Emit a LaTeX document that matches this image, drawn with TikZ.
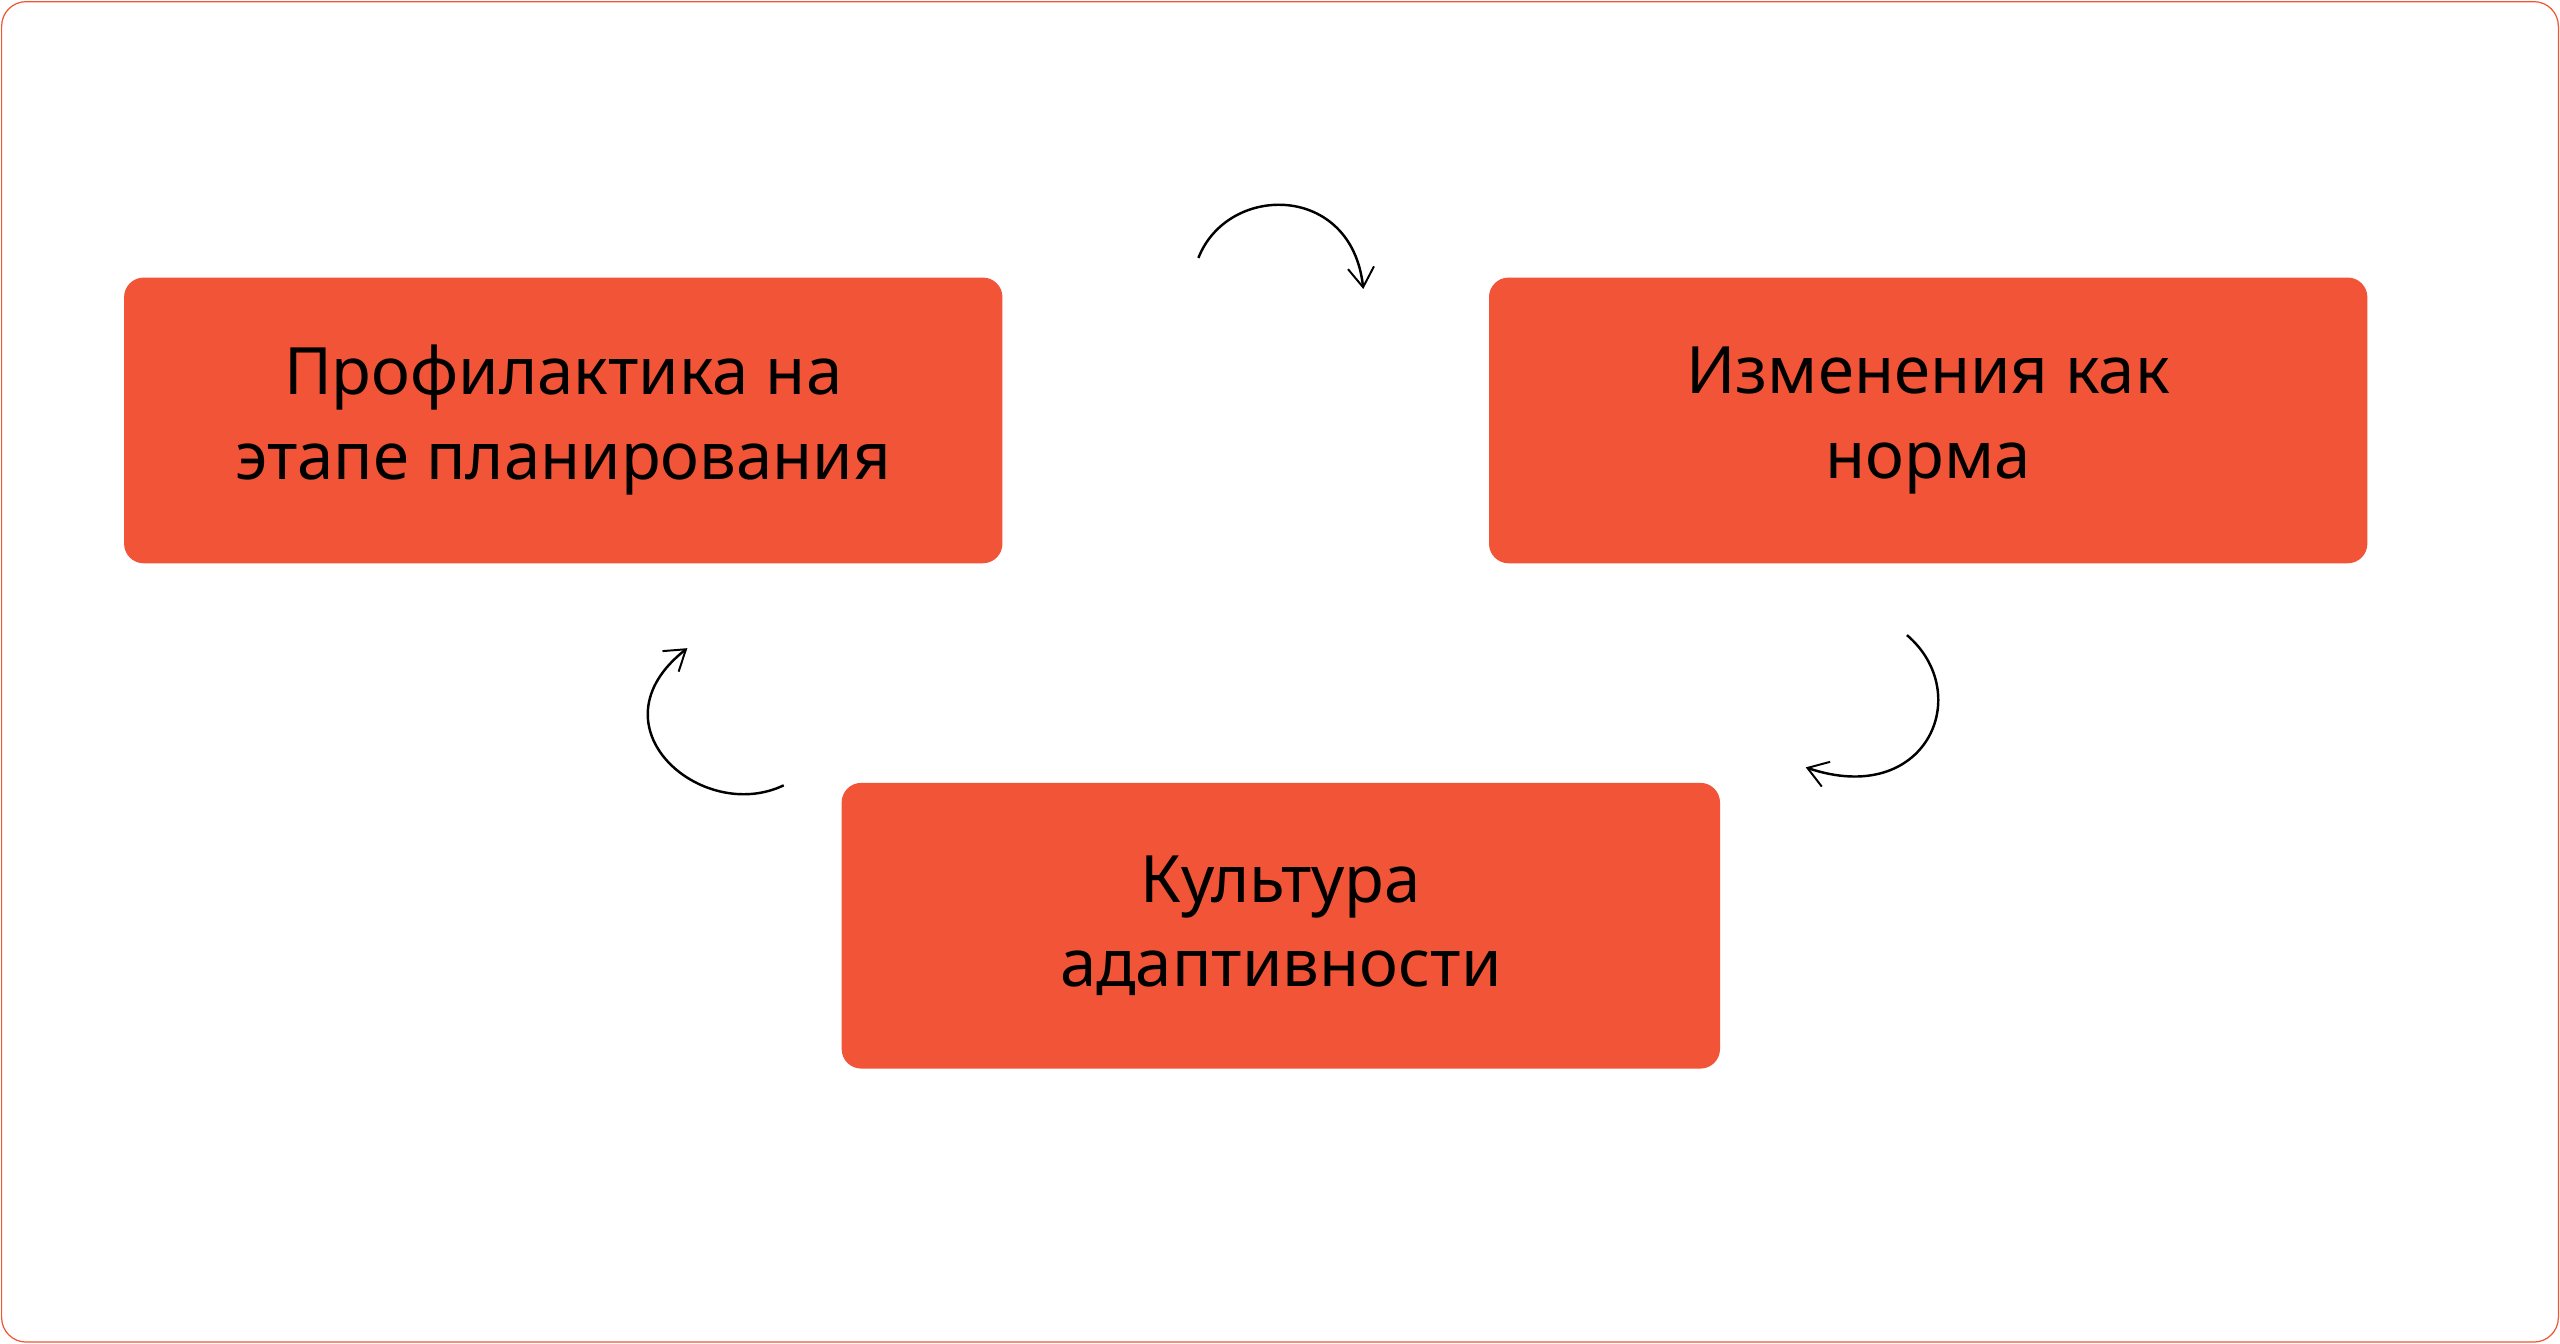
\documentclass[tikz,border=0pt]{standalone}
\usepackage{fontspec}
\setmainfont{Noto Sans}
\usetikzlibrary{arrows.meta}
\definecolor{boxred}{RGB}{241,84,54}
\tikzset{every picture/.style={line width=0.75pt}}
\tikzset{stagebox/.style={fill=boxred,rounded corners=12pt,minimum width=538pt,minimum height=175pt,align=center,font=\fontsize{40}{52}\selectfont,inner sep=0pt},
cyclearrow/.style={-{Straight Barb[length=12pt,width=16pt,line width=1.2pt]},line width=1.5pt}}
\begin{document}
\begin{tikzpicture}[x=1pt,y=1pt,yscale=-1]
%frame
\draw [color=boxred,rounded corners=15pt] (1,1) rectangle (1567,822);
\useasboundingbox (0,0) rectangle (1568,823);

%Stages
\node [stagebox] (plan) at (345,257.5) {Профилактика на\\этапе планирования};
\node [stagebox] (norm) at (1181,257.5) {Изменения как\\норма};
\node [stagebox] (adapt) at (784.5,567) {Культура\\адаптивности};

%Arrows
\coordinate (a1) at (734,158);
\coordinate (b1) at (835,177);
\coordinate (a2) at (1168,389);
\coordinate (b2) at (1106,470);
\coordinate (a3) at (480,481);
\coordinate (b3) at (421,397);
\draw [cyclearrow] (a1) .. controls (752,112) and (828,112) .. (b1);
\draw [cyclearrow] (a2) .. controls (1210,425) and (1180,495) .. (b2);
\draw [cyclearrow] (a3) .. controls (430,505) and (360,445) .. (b3);
\end{tikzpicture}
\end{document}
